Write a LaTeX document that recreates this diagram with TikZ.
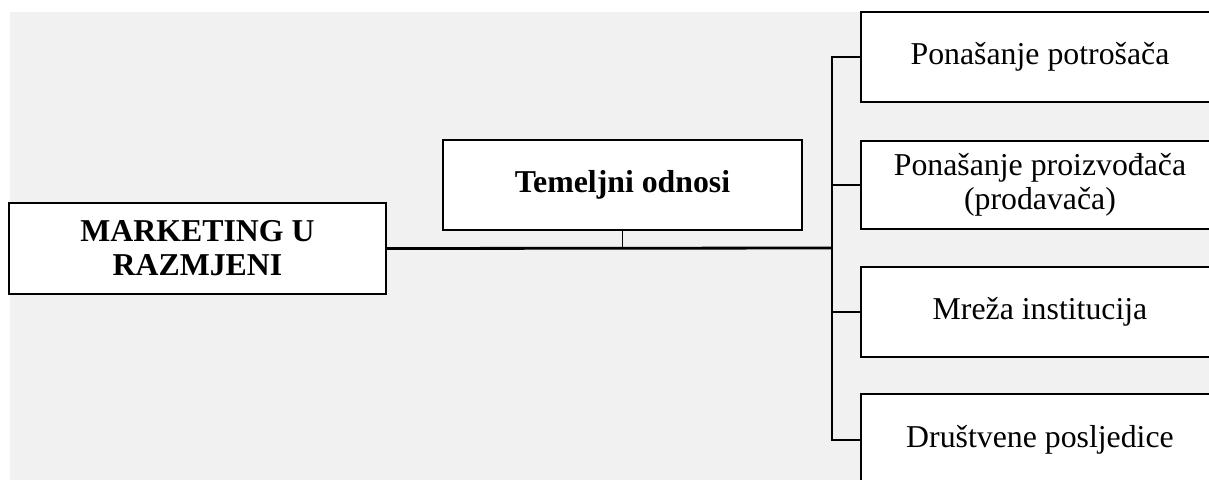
\documentclass[tikz,border=0pt]{standalone}
\usepackage{fontspec}
\setmainfont{Liberation Serif}
\definecolor{bggrey}{RGB}{241,241,241}
\tikzset{
  box/.style={draw=black, line width=2.4pt, fill=white, align=center, inner sep=0pt,
    font=\fontsize{31.8}{34}\selectfont},
  boldbox/.style={box, font=\fontsize{31.8}{34}\selectfont\bfseries},
  conn/.style={draw=black, line width=2.8pt},
  thinconn/.style={draw=black, line width=1.8pt}
}
\begin{document}
\begin{tikzpicture}[x=1pt,y=-1pt]
\useasboundingbox (0,0) rectangle (1209,479);
\clip (0,0) rectangle (1209,479);
\fill[bggrey] (10,12) rectangle (1215,485);
\coordinate (j) at (832,248);
\node[boldbox, minimum width=377pt, minimum height=91pt] (left) at (197.5,248.5) {MARKETING U\\RAZMJENI};
\node[boldbox, minimum width=359pt, minimum height=90pt] (tem) at (622.5,185) {Temeljni odnosi};
\node[box, minimum width=358pt, minimum height=90pt] (r1) at (1040,57) {Ponašanje potrošača};
\node[box, minimum width=358pt, minimum height=88pt] (r2) at (1040,185) {Ponašanje proizvođača\\(prodavača)};
\node[box, minimum width=358pt, minimum height=90pt] (r3) at (1040,312) {Mreža institucija};
\node[box, minimum width=358pt, minimum height=92pt] (r4) at (1040,440) {Društvene posljedice};
\draw[conn] (left.east) -- (j);
\draw[thinconn] (tem.south) -- (tem.south |- j);
\draw[conn] (r1.west) -- (r1.west -| j) -- (r4.west -| j) -- (r4.west);
\draw[conn] (r2.west) -- (r2.west -| j);
\draw[conn] (r3.west) -- (r3.west -| j);
\end{tikzpicture}
\end{document}
